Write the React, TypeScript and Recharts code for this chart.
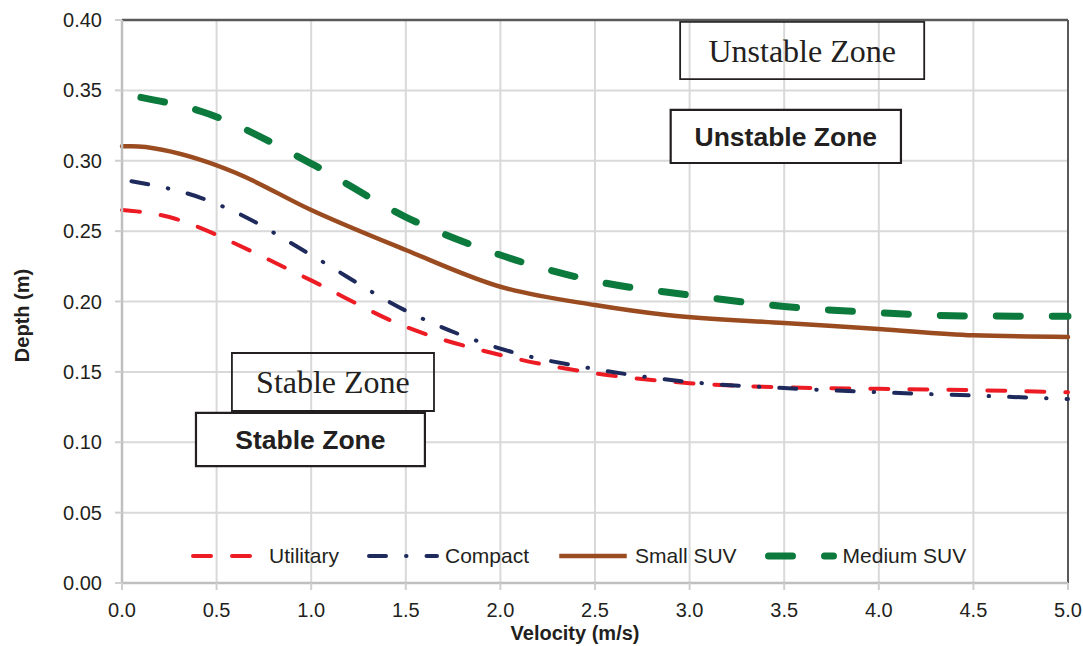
import React from 'react';
import { LineChart, Line, XAxis, YAxis, CartesianGrid, Legend, ReferenceArea, ReferenceLine } from 'recharts';

const velocityTicks = [0, 0.5, 1, 1.5, 2, 2.5, 3, 3.5, 4, 4.5, 5];
const depthTicks = [0, 0.05, 0.1, 0.15, 0.2, 0.25, 0.3, 0.35, 0.4];

// velocity (m/s) -> depth (m)
const utilitaryVel = [0, 0.25, 0.42, 0.6, 1.0, 1.5, 2.0, 2.5, 3.0, 3.5, 4.0, 4.5, 5.0];
const utilitaryDepth = [0.265, 0.26, 0.252, 0.241, 0.215, 0.182, 0.162, 0.149, 0.142, 0.139, 0.138, 0.137, 0.1355];

const compactVel = [0.05, 0.42, 0.6, 1.0, 1.5, 2.0, 2.5, 3.0, 3.5, 4.0, 4.5, 5.0];
const compactDepth = [0.2855, 0.2735, 0.2635, 0.233, 0.1935, 0.1665, 0.152, 0.1428, 0.1385, 0.1355, 0.1332, 0.1307];

const smallSuvVel = [0, 0.05, 0.42, 0.6, 1.0, 1.5, 2.0, 2.5, 2.88, 3.5, 4.0, 4.5, 5.0];
const smallSuvDepth = [0.3103, 0.3103, 0.3005, 0.2915, 0.265, 0.2366, 0.2105, 0.1975, 0.1904, 0.1847, 0.1805, 0.176, 0.1748];

const mediumSuvVel = [0.1, 0.42, 1.0, 1.5, 2.0, 2.5, 3.0, 3.5, 4.0, 4.5, 5.0];
const mediumSuvDepth = [0.345, 0.335, 0.298, 0.26, 0.233, 0.2145, 0.2045, 0.1965, 0.192, 0.1897, 0.1895];

const toPoints = (vel: number[], depth: number[]) => vel.map((v, i) => ({ v, d: depth[i] }));

const series = [
  { name: 'Utilitary', data: toPoints(utilitaryVel, utilitaryDepth), color: '#ed1c24', width: 4, dash: '18 21' },
  { name: 'Compact', data: toPoints(compactVel, compactDepth), color: '#1f2a5c', width: 4, dash: '17 20 0.5 20' },
  { name: 'Small SUV', data: toPoints(smallSuvVel, smallSuvDepth), color: '#9a4c20', width: 4.5, dash: undefined },
  { name: 'Medium SUV', data: toPoints(mediumSuvVel, mediumSuvDepth), color: '#0b7a3c', width: 7, dash: '24 32' },
];

// zone boxes in data units (velocity x1..x2, depth y1..y2)
const zoneBoxes = [
  { text: 'Unstable Zone', x1: 2.95, x2: 4.24, y1: 0.358, y2: 0.3986, bold: false },
  { text: 'Unstable Zone', x1: 2.9, x2: 4.117, y1: 0.2984, y2: 0.3361, bold: true },
  { text: 'Stable Zone', x1: 0.581, x2: 1.649, y1: 0.1222, y2: 0.1634, bold: false },
  { text: 'Stable Zone', x1: 0.391, x2: 1.601, y1: 0.0831, y2: 0.1208, bold: true },
];

const SANS = '"Liberation Sans", Arial, Helvetica, sans-serif';
const SERIF = '"Liberation Serif", "Times New Roman", serif';

const XTitle = ({ viewBox }: any) => (
  <text x={viewBox.x + viewBox.width / 2 - 20} y={viewBox.y + 57} textAnchor="middle"
    fontFamily={SANS} fontSize={20} fontWeight="bold" fill="#231f20">Velocity (m/s)</text>
);

const YTitle = ({ viewBox }: any) => {
  const cx = viewBox.x + 29;
  const cy = viewBox.y + viewBox.height / 2 + 14;
  return (
    <text x={cx} y={cy} textAnchor="middle" transform={`rotate(-90, ${cx}, ${cy})`}
      fontFamily={SANS} fontSize={20} fontWeight="bold" fill="#231f20">Depth (m)</text>
  );
};

const LegendContent = () => (
  <div style={{ display: 'flex', alignItems: 'center', fontFamily: SANS, fontSize: 21, color: '#231f20' }}>
    {series.map((s) => (
      <div key={s.name} style={{ display: 'flex', alignItems: 'center', marginRight: 28 }}>
        <svg width={72} height={14} style={{ marginRight: 6 }}>
          <line x1={s.width / 2} y1={7} x2={72 - s.width / 2} y2={7} stroke={s.color} strokeWidth={s.width}
            strokeDasharray={s.dash} strokeLinecap={s.dash ? 'round' : 'butt'} />
        </svg>
        <span>{s.name}</span>
      </div>
    ))}
  </div>
);

export default function App() {
  return (
    <div style={{ width: 1083, height: 646, background: '#fff' }}>
      <style>{'body{margin:0}'}</style>
      <LineChart width={1083} height={646} margin={{ top: 20, right: 15, bottom: 3, left: 0 }}>
        <CartesianGrid stroke="#d9d9d9" strokeWidth={2} />
        <XAxis type="number" dataKey="v" domain={[0, 5]} ticks={velocityTicks} allowDuplicatedCategory={false}
          tickFormatter={(v: number) => v.toFixed(1)} height={60} tickSize={7} tickMargin={13}
          axisLine={{ stroke: '#bfbfbf', strokeWidth: 2.5 }} tickLine={{ stroke: '#cfcfcf', strokeWidth: 2 }}
          tick={{ fill: '#231f20', fontSize: 20, fontFamily: SANS }} label={<XTitle />} />
        <YAxis type="number" domain={[0, 0.4]} ticks={depthTicks} tickFormatter={(v: number) => v.toFixed(2)}
          width={122} tickSize={7} tickMargin={13}
          axisLine={{ stroke: '#bfbfbf', strokeWidth: 2.5 }} tickLine={{ stroke: '#cfcfcf', strokeWidth: 2 }}
          tick={{ fill: '#231f20', fontSize: 20, fontFamily: SANS }} label={<YTitle />} />
        <ReferenceLine y={0.4} stroke="#595959" strokeWidth={2.5} />
        <ReferenceLine x={5} stroke="#595959" strokeWidth={2} />
        {zoneBoxes.map((b, i) => (
          <ReferenceArea key={i} x1={b.x1} x2={b.x2} y1={b.y1} y2={b.y2}
            fill={b.bold ? '#ffffff' : 'none'} fillOpacity={1} stroke="#231f20" strokeWidth={b.bold ? 2.2 : 1.8}
            label={{ value: b.text, position: 'center', fill: '#231f20', fontSize: b.bold ? 26.5 : 32,
              fontFamily: b.bold ? SANS : SERIF, fontWeight: b.bold ? 'bold' : 'normal' }} />
        ))}
        {series.map((s) => (
          <Line key={s.name} data={s.data} dataKey="d" name={s.name} type="monotoneX" stroke={s.color}
            strokeWidth={s.width} strokeDasharray={s.dash} strokeLinecap="round" dot={false}
            activeDot={false} isAnimationActive={false} />
        ))}
        <Legend layout="horizontal" verticalAlign="middle" align="center" content={<LegendContent />}
          wrapperStyle={{ top: 544, left: 191, width: 860, height: 30 }} />
      </LineChart>
    </div>
  );
}
